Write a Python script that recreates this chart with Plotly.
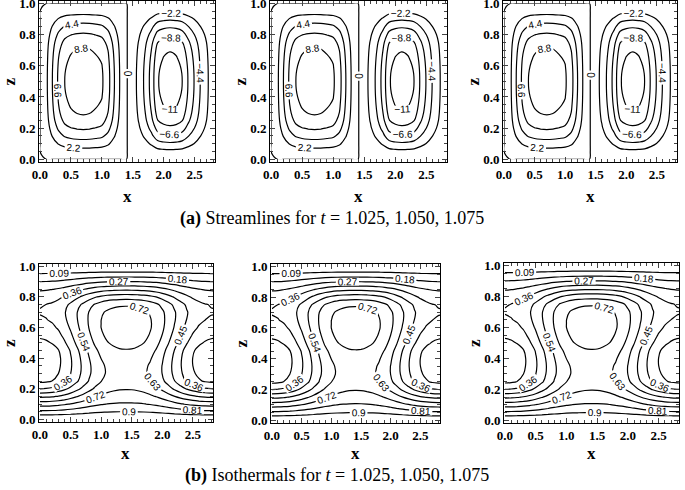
import numpy as np
import plotly.graph_objects as go

# grid nodes (x across the layer, z up the layer)
x_nodes = [0.0, 0.1, 0.2, 0.3, 0.4, 0.5, 0.6, 0.7, 0.8, 0.9, 1.0, 1.1, 1.2, 1.3, 1.4,
           1.5, 1.6, 1.7, 1.8, 1.9, 2.0, 2.1, 2.2, 2.3, 2.4, 2.5, 2.6, 2.7, 2.8, 2.83]
z_nodes = [0.0, 0.05, 0.1, 0.15, 0.2, 0.25, 0.3, 0.35, 0.4, 0.45, 0.5,
           0.55, 0.6, 0.65, 0.7, 0.75, 0.8, 0.85, 0.9, 0.95, 1.0]

# streamfunction read along the mid-height line, and its vertical shape
psi_x = [0.0, 1.7, 4.4, 7.0, 8.8, 9.6, 10.0, 10.15, 10.0, 9.6, 9.1, 7.4, 4.5, 1.9, 0.15,
         -1.2, -2.9, -4.9, -7.4, -10.8, -11.8, -12.2, -11.9, -11.0, -8.6, -6.4, -4.2, -2.6, -0.7, 0.0]
psi_z = [0.0, 0.13, 0.33, 0.52, 0.68, 0.81, 0.89, 0.94, 0.975, 0.995, 1.0,
         0.995, 0.975, 0.94, 0.89, 0.81, 0.68, 0.52, 0.33, 0.13, 0.0]

# temperature read at the mid plume (x=1.41) and at the side walls, plus the x shape
temp_center = [1.0, 0.90, 0.82, 0.76, 0.715, 0.68, 0.665, 0.67, 0.69, 0.715, 0.745,
               0.765, 0.775, 0.77, 0.755, 0.71, 0.59, 0.43, 0.27, 0.12, 0.0]
temp_wall = [1.0, 0.83, 0.68, 0.52, 0.36, 0.25, 0.22, 0.205, 0.20, 0.21, 0.25,
             0.285, 0.32, 0.35, 0.365, 0.355, 0.31, 0.26, 0.18, 0.095, 0.0]
temp_x = [-1.0, -0.97, -0.90, -0.78, -0.60, -0.38, -0.13, 0.12, 0.37, 0.59, 0.76, 0.88, 0.95, 0.99, 1.0,
          0.995, 0.96, 0.90, 0.79, 0.64, 0.43, 0.19, -0.06, -0.31, -0.53, -0.72, -0.86, -0.95, -0.995, -1.0]

x_ticks = [0.0, 0.5, 1.0, 1.5, 2.0, 2.5]
z_ticks = [0.0, 0.2, 0.4, 0.6, 0.8, 1.0]

psi = np.outer(psi_z, psi_x)
tc = np.array(temp_center)
tw = np.array(temp_wall)
temp = np.outer((tc + tw) / 2, np.ones(len(temp_x))) + np.outer((tc - tw) / 2, temp_x)

W, H = 685, 490
# panel frames in pixels: left, right, top, bottom
frames = [(39, 215, 1, 162), (270, 447, 1, 162), (503, 677, 1, 162),
          (39, 213, 264, 422), (271, 440, 264, 423), (504, 679, 263, 423)]

fig = go.Figure()
black = [[0, 'black'], [1, 'black']]
serif = 'Liberation Serif'

for k, (l, r, t, b) in enumerate(frames):
    n = k + 1
    if k < 3:
        field, cont = psi, dict(start=-11, end=11, size=2.2)
    else:
        field, cont = temp, dict(start=0.09, end=0.9, size=0.09)
    cont.update(coloring='lines', showlabels=True,
                labelfont=dict(size=10, color='black', family='Liberation Sans'))
    fig.add_trace(go.Contour(
        x=x_nodes, y=z_nodes, z=field, contours=cont, colorscale=black,
        showscale=False, line=dict(width=1.2), hoverinfo='skip',
        xaxis='x%d' % n, yaxis='y%d' % n))
    xa = dict(domain=[l / W, r / W], anchor='y%d' % n, range=[-0.016, 2.83],
              tickvals=x_ticks, ticktext=['%.1f' % v for v in x_ticks],
              ticks='inside', ticklen=5, mirror='allticks', showline=True,
              linecolor='black', linewidth=1, showgrid=False, zeroline=False,
              automargin=False, ticklabeloverflow='allow',
              minor=dict(dtick=0.1, ticks='inside', ticklen=3, tick0=0),
              tickfont=dict(family=serif, size=13, weight='bold', color='black'))
    ya = dict(domain=[1 - b / H, 1 - t / H], anchor='x%d' % n, range=[-0.017, 1.015],
              tickvals=z_ticks, ticktext=['%.1f' % v for v in z_ticks],
              ticks='inside', ticklen=5, mirror='allticks', showline=True,
              linecolor='black', linewidth=1, showgrid=False, zeroline=False,
              automargin=False, ticklabeloverflow='allow',
              minor=dict(dtick=0.05, ticks='inside', ticklen=3, tick0=0),
              tickfont=dict(family=serif, size=13, weight='bold', color='black'))
    key = '' if n == 1 else str(n)
    fig.update_layout({'xaxis' + key: xa, 'yaxis' + key: ya})

    # axis titles
    xt_y = 196 if k < 3 else 453
    fig.add_annotation(text='<b>x</b>', x=(l + r) / 2 / W, y=1 - xt_y / H,
                       xref='paper', yref='paper', showarrow=False,
                       xanchor='center', yanchor='middle',
                       font=dict(family=serif, size=17, color='black'))
    fig.add_annotation(text='<b>z</b>', x=(l - 30) / W, y=1 - (t + b) / 2 / H,
                       xref='paper', yref='paper', showarrow=False, textangle=-90,
                       xanchor='center', yanchor='middle',
                       font=dict(family=serif, size=17, color='black'))

captions = [('<b>(a)</b> Streamlines for <i>t</i> = 1.025, 1.050, 1.075', 332, 218),
            ('<b>(b)</b> Isothermals for <i>t</i> = 1.025, 1.050, 1.075', 337, 475)]
for text, cx, cy in captions:
    fig.add_annotation(text=text, x=cx / W, y=1 - cy / H, xref='paper', yref='paper',
                       showarrow=False, xanchor='center', yanchor='middle',
                       font=dict(family=serif, size=18, color='black'))

fig.update_layout(width=W, height=H, margin=dict(l=0, r=0, t=0, b=0),
                  plot_bgcolor='white', paper_bgcolor='white', showlegend=False)

fig.write_html('out.html', config={'displayModeBar': False},
               post_script="document.body.style.margin='0px';")
